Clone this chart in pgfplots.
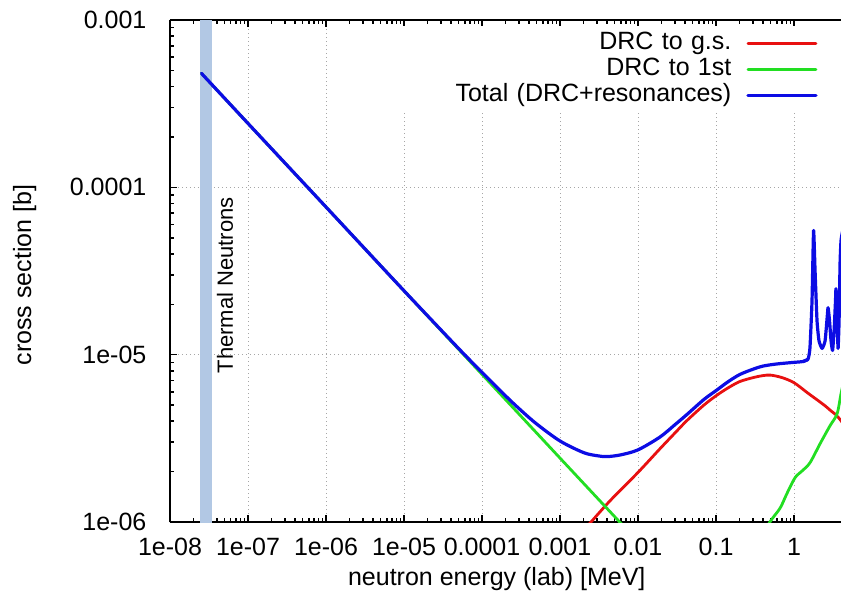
\documentclass[border=0pt]{standalone}
\usepackage{fontspec}
\setmainfont{Liberation Sans}
\usepackage{pgfplots}
\pgfplotsset{compat=1.18}

\definecolor{gsred}{RGB}{232,16,16}
\definecolor{firstgreen}{RGB}{34,222,34}
\definecolor{totblue}{RGB}{12,12,228}
\definecolor{thermal}{RGB}{178,200,228}

\newcommand{\lblfont}{\fontsize{12.5}{13}\selectfont}

\begin{document}
\begin{tikzpicture}
\begin{axis}[
  name=ax,
  scale only axis,
  width=335.5pt, height=251pt,
  xmode=log, ymode=log,
  xmin=1e-8, xmax=4,
  ymin=1e-6, ymax=1e-3,
  axis x line=box,
  axis y line*=left,
  axis line style={-, line width=1.2pt},
  every outer y axis line/.append style={-},
  tick align=inside,
  major tick length=3.5pt,
  minor tick length=2pt,
  every tick/.style={black, line width=0.8pt},
  xtick={1e-8,1e-7,1e-6,1e-5,1e-4,1e-3,1e-2,1e-1,1},
  xticklabels={1e-08,1e-07,1e-06,1e-05,0.0001,0.001,0.01,0.1,1},
  ytick={1e-6,1e-5,1e-4,1e-3},
  yticklabels={1e-06,1e-05,0.0001,0.001},
  tick label style={font=\lblfont},
  xticklabel style={yshift=-4.5pt},
  yticklabel style={xshift=-8.3pt},
  grid=major,
  major grid style={gray!70, line width=0.5pt, dash pattern=on 0.6pt off 1.4pt},
  xlabel={neutron energy (lab) [MeV]},
  ylabel={cross section [b]},
  label style={font=\lblfont},
  xlabel style={at={(rel axis cs:0.487,-0.1255)}, anchor=base},
  ylabel style={at={(rel axis cs:-0.2071,0.492)}, anchor=base, rotate=0},
  legend plot pos=right,
  legend cell align=right,
  legend image code/.code={\draw[#1] (0pt,0pt) -- (34pt,0pt);},
  legend style={
    at={(rel axis cs:0.9776,0.988)}, anchor=north east,
    fill=white, draw=none,
    inner xsep=4pt, inner ysep=2pt,
    column sep=5.5pt,
    font=\lblfont,
    nodes={text width=163.5pt, align=right, inner xsep=2pt, inner ysep=0.7pt,
           text height=9pt, text depth=2.6pt},
  },
  every axis plot/.append style={line join=round, line cap=round},
]

% thermal neutron band
\addplot[draw=none, fill=thermal, forget plot] coordinates {
  (2.4e-8,5e-7) (2.4e-8,2e-3) (3.5e-8,2e-3) (3.5e-8,5e-7)} -- cycle;

% direct capture to ground state
\addplot[gsred, line width=1.4pt, smooth, tension=0.5] coordinates {
  (2.0e-3,8.9e-7) (2.43e-3,9.86e-7) (4.38e-3,1.34e-6) (1e-2,1.98e-6)
  (1.91e-2,2.74e-6) (3e-2,3.42e-6) (4.21e-2,4.03e-6) (7e-2,5.0e-6)
  (0.1,5.68e-6) (0.14,6.3e-6) (0.2,6.9e-6) (0.3,7.3e-6) (0.4,7.5e-6)
  (0.5,7.55e-6) (0.7,7.3e-6) (1.0,6.8e-6) (1.5,5.9e-6) (2.0,5.35e-6)
  (2.5,4.95e-6) (3.0,4.6e-6) (3.45,4.37e-6) (4.0,4.03e-6) (4.5,3.7e-6)};
\addlegendentry{DRC to g.s.}

% direct capture to first excited state
\addplot[firstgreen, line width=1.4pt] coordinates {
  (2.53e-8,4.8e-4) (1e-7,2.41e-4) (1e-6,7.63e-5) (1e-5,2.41e-5)
  (1e-4,7.63e-6) (1e-3,2.41e-6) (1e-2,7.63e-7)};
\addlegendentry{DRC to 1st}
\addplot[firstgreen, line width=1.4pt, smooth, tension=0.5, forget plot] coordinates {
  (0.366,7.7e-7) (0.49,1e-6) (0.662,1.21e-6) (0.805,1.47e-6)
  (1.03,1.84e-6) (1.27,2.02e-6) (1.6,2.26e-6) (2.15,2.93e-6)
  (2.89,3.76e-6) (3.56,4.43e-6) (4.0,5.84e-6) (4.5,7.5e-6)};

% total
\addplot[totblue, line width=1.6pt, smooth, tension=0.5] coordinates {
  (2.53e-8,4.8e-4) (1e-7,2.41e-4) (1e-6,7.63e-5) (1e-5,2.41e-5)
  (5e-5,1.09e-5) (1e-4,7.84e-6) (2e-4,5.68e-6) (3e-4,4.75e-6)
  (5e-4,3.86e-6) (1e-3,3.05e-6) (2e-3,2.60e-6) (3e-3,2.49e-6)
  (4e-3,2.46e-6) (6e-3,2.52e-6) (1e-2,2.70e-6) (1.91e-2,3.22e-6)
  (3e-2,3.83e-6) (4.21e-2,4.38e-6) (7e-2,5.4e-6) (0.1,6.1e-6)
  (0.14,6.85e-6) (0.2,7.6e-6) (0.3,8.2e-6) (0.4,8.55e-6) (0.6,8.8e-6)
  (1.0,9.0e-6) (1.3,9.1e-6) (1.51,9.4e-6)};
\addlegendentry{Total (DRC+resonances)}
\addplot[totblue, line width=1.6pt, smooth, tension=0.3, forget plot] coordinates {
  (1.3,9.1e-6) (1.51,9.4e-6)
  (1.60,1.10e-5) (1.70,2.1e-5) (1.78,5.53e-5) (1.86,3.18e-5)
  (1.97,1.60e-5) (2.09,1.21e-5) (2.29,1.09e-5) (2.50,1.21e-5)
  (2.65,1.64e-5) (2.73,1.91e-5) (2.85,1.60e-5) (2.98,1.21e-5)
  (3.12,1.06e-5) (3.26,1.39e-5) (3.40,2.10e-5) (3.45,2.48e-5)
  (3.56,1.60e-5) (3.67,1.09e-5) (3.78,1.60e-5) (3.89,3.51e-5)
  (4.0,4.8e-5) (4.2,5.5e-5)};

\node[rotate=90, anchor=west, inner sep=0pt, font=\fontsize{11}{12}\selectfont]
  at (axis cs:5.07e-8,7.7e-6) {Thermal Neutrons};
\end{axis}
\pgfresetboundingbox
\path[use as bounding box] ([xshift=-85pt,yshift=-41.5pt]ax.south west)
  rectangle ([yshift=10pt]ax.north east);
\end{tikzpicture}
\end{document}
